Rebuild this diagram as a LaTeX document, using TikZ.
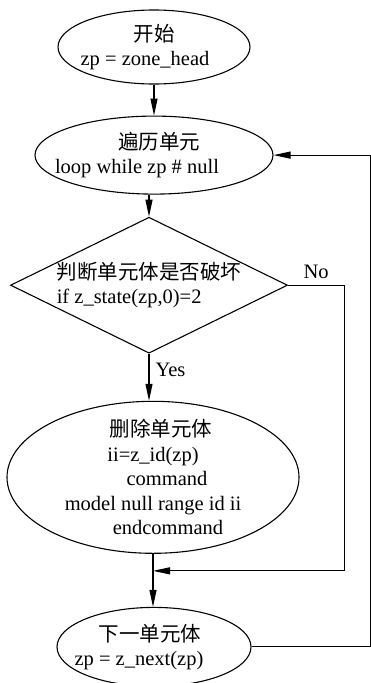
\documentclass[tikz,border=0pt]{standalone}
\usepackage{fontspec}
\setmainfont{Liberation Serif}
\newfontfamily\cjk{Noto Sans CJK SC}
\usetikzlibrary{positioning, shapes.geometric, arrows.meta}

\begin{document}
\begin{tikzpicture}[
  x=1pt, y=-1pt,
  font=\fontsize{20.5}{24.5}\selectfont,
  node distance=32pt,
  box/.style={draw, ellipse, inner xsep=-30pt, inner ysep=-10pt, align=center},
  term/.style={box, minimum width=192pt, minimum height=74pt},
  head/.style={box, minimum width=238pt, minimum height=78pt},
  body/.style={box, minimum width=292pt, minimum height=152pt},
  stepnext/.style={box, minimum width=194pt, minimum height=79pt},
  test/.style={draw, diamond, aspect=2.04, inner sep=-3pt, minimum width=277pt, minimum height=136pt, align=left},
  lbl/.style={inner sep=6pt},
  ->, >={Triangle[length=17pt,width=7pt]}, line width=1.1pt
]
\useasboundingbox (0,0) rectangle (371,683);

% Start and loop head
\node[term] (start) at (154,47) {{\cjk 开始}\\zp = zone\_head\hspace*{18pt}};
\node[head, below=31pt of start] (loop) {\hspace*{10pt}{\cjk 遍历单元}\\loop while zp \# null\hspace*{34pt}};
\draw (start) -- (loop);

% Test on the zone state
\node[test, below=22pt of loop, xshift=-5pt] (check) {{\cjk 判断单元体是否破坏}\\if z\_state(zp,0)=2};
\draw (loop.south -| check.north) -- (check.north);

% Delete the zone
\node[body, below=47pt of check, xshift=4pt] (del) {\hspace*{16pt}{\cjk 删除单元体}\\ii=z\_id(zp)\\\hspace*{28pt}command\\model null range id ii\hspace*{24pt}\\\hspace*{30pt}endcommand};
\draw (check.south) -- node[lbl, right, pos=0.34] {Yes} (check.south |- del.north);

% Next zone
\node[stepnext, below=53pt of del, xshift=1pt] (next) {{\cjk 下一单元体}\hspace*{8pt}\\zp = z\_next(zp)\hspace*{30pt}};
\coordinate[below=17pt of del.south] (join);
\draw (del.south) -- (del.south |- next.north);
\draw (check.east) -- node[lbl, above] {No} ++(56,0) |- (join);
\draw (next.east) -- ++(119,0) |- (loop.east);
\end{tikzpicture}
\end{document}
